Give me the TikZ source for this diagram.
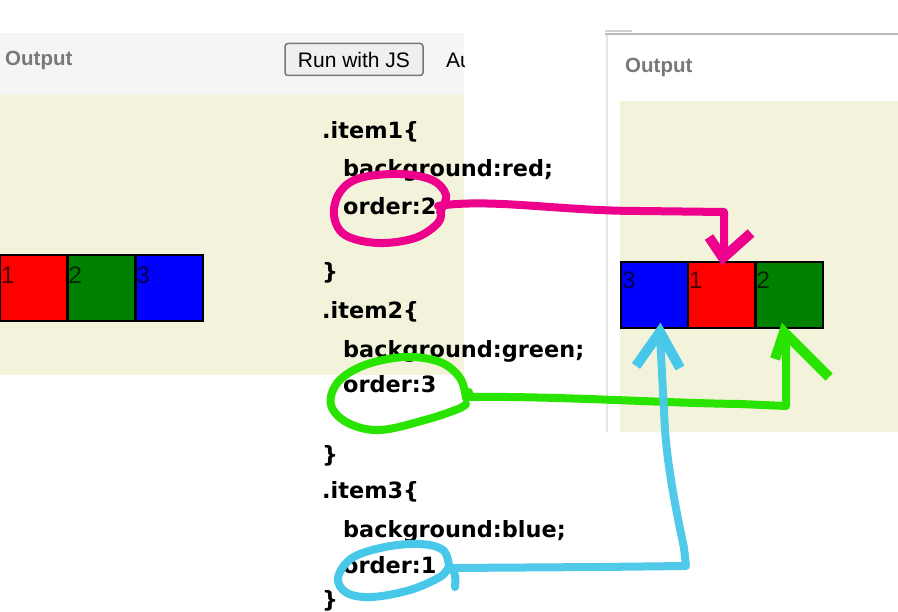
\documentclass[tikz,border=0pt]{standalone}
\usepackage{fontspec}
\setmainfont{DejaVu Sans}
\newfontfamily\codefont{DejaVu Sans}
\newfontfamily\uifont{Liberation Sans}
\usetikzlibrary{calc}
\definecolor{beige}{RGB}{243,243,220}
\definecolor{hdrgray}{RGB}{245,245,245}
\definecolor{lblgray}{RGB}{120,120,120}
\definecolor{btnfill}{RGB}{239,239,239}
\definecolor{btnedge}{RGB}{118,118,118}
\definecolor{mag}{RGB}{236,0,140}
\definecolor{grn}{RGB}{40,228,0}
\definecolor{cyn}{RGB}{72,200,232}
\definecolor{cred}{RGB}{255,0,0}
\definecolor{cgreen}{RGB}{0,128,0}
\definecolor{cblue}{RGB}{0,0,255}
\tikzset{
  outlbl/.style={anchor=west,inner sep=0pt,text=lblgray,font=\uifont\bfseries\fontsize{20.5}{20.5}\selectfont},
  btn/.style={draw=btnedge,fill=btnfill,line width=1.5pt,rounded corners=3pt,minimum width=138pt,minimum height=32pt,inner sep=0pt,font=\uifont\fontsize{21}{21}\selectfont},
  cell/.style={draw=black,line width=2pt,minimum width=67pt,minimum height=66pt,inner sep=0pt},
  num/.style={anchor=north west,inner sep=0pt,text=black,text opacity=0.7,font=\uifont\fontsize{24}{24}\selectfont},
  code/.style={anchor=base west,inner sep=0pt,font=\codefont\bfseries\fontsize{22.4}{22.4}\selectfont},
  pen/.style={line width=8pt,line cap=round,line join=round},
  arm/.style={line width=10pt,line cap=butt,line join=miter},
}
\begin{document}
\begin{tikzpicture}[x=1pt,y=-1pt]
\useasboundingbox (0,0) rectangle (898,612);
\fill[white] (0,0) rectangle (898,612);
% left panel
\fill[hdrgray] (0,33) rectangle (464,95);
\fill[beige] (0,95) rectangle (464,375);
\node[outlbl] (out1) at (5,60) {Output};
\node[btn] (run) at (354,59.5) {Run with JS};
\begin{scope}
\clip (0,0) rectangle (464,612);
\node[anchor=west,inner sep=0pt,font=\uifont\fontsize{21}{21}\selectfont] (au) at (446,60) {Au};
\end{scope}
% right panel
\draw[gray!35,line width=2pt] (605,31) -- (632,31);
\draw[gray!55,line width=2pt] (605,34.5) -- (898,34.5);
\draw[gray!20,line width=2.5pt] (607,35) -- (607,432);
\fill[beige] (620,101) rectangle (898,432);
\node[outlbl] (out2) at (625,67) {Output};
% left boxes
\node[cell,fill=cred] (l1) at (33.5,288.5) {};
\node[cell,fill=cgreen] (l2) at (101,288.5) {};
\node[cell,fill=cblue] (l3) at (169,288.5) {};
\node[num] (n1) at ($(l1.north west)+(2,12)$) {1};
\node[num] (n2) at ($(l2.north west)+(2,12)$) {2};
\node[num] (n3) at ($(l3.north west)+(2,12)$) {3};
% right boxes
\node[cell,fill=cblue] (r3) at (654.5,295) {};
\node[cell,fill=cred] (r1) at (721.5,295) {};
\node[cell,fill=cgreen] (r2) at (789,295) {};
\node[num] (m3) at ($(r3.north west)+(2,11)$) {3};
\node[num] (m1) at ($(r1.north west)+(2,11)$) {1};
\node[num] (m2) at ($(r2.north west)+(2,11)$) {2};
% code
\node[code] (c1) at (322,139) {.item1\{};
\node[code] (c2) at (343,177) {background:red;};
\node[code] (c3) at (343,215) {order:2};
\node[code] (c4) at (322,280) {\}};
\node[code] (c5) at (322,319) {.item2\{};
\node[code] (c6) at (343,358) {background:green;};
\node[code] (c7) at (343,393) {order:3};
\node[code] (c8) at (322,463) {\}};
\node[code] (c9) at (322,499) {.item3\{};
\node[code] (c10) at (343,537) {background:blue;};
\node[code] (c11) at (343,573) {order:1};
\node[code] (c12) at (322,607) {\}};
% magenta annotation
\coordinate (ms) at (438,206);
\draw[mag,pen] plot[smooth,tension=0.6] coordinates {(440,212) (446,195) (432,180) (400,174) (360,178) (340,192) (334,215) (345,235) (378,243) (415,238) (438,223) (441,210)};
\draw[mag,pen] (ms) .. controls (490,198) and (560,211) .. (640,211) -- ($(r1.north)+(2.5,-49)$) -- ($(r1.north)+(2.5,-6)$);
\draw[mag,arm] (709,237) -- ($(r1.north)+(1.5,-3)$) -- (751,233);
% green annotation
\coordinate (gs) at (469,397);
\draw[grn,pen] plot[smooth,tension=0.6] coordinates {(466,398) (460,378) (440,362) (405,357) (365,365) (338,382) (331,405) (348,423) (380,430) (425,420) (458,409) (466,404)};
\draw[grn,pen] (469,392) -- (gs) .. controls (560,396) and (660,403) .. (740,404) -- ($(r2.south)+(-3,77)$) -- ($(r2.south)+(-3,6)$);
\draw[grn,arm] (775,359) -- ($(r2.south)+(-5,3)$) -- (829,377);
% cyan annotation
\coordinate (cs) at (451,568);
\draw[cyn,pen] plot[smooth,tension=0.6] coordinates {(449,566) (443,550) (420,544) (385,547) (352,558) (338,578) (347,593) (372,597) (410,590) (440,577) (450,567) (455,576) (455,587)};
\draw[cyn,pen,opacity=0.95] (cs) -- (600,567) -- (686,566) -- (684,548) .. controls (676,510) and (668,470) .. (665,430) -- ($(r3.south)+(5.5,6)$);
\draw[cyn,arm] (636,366) -- ($(r3.south)+(5.5,3)$) -- (680,368);
\end{tikzpicture}
\end{document}
